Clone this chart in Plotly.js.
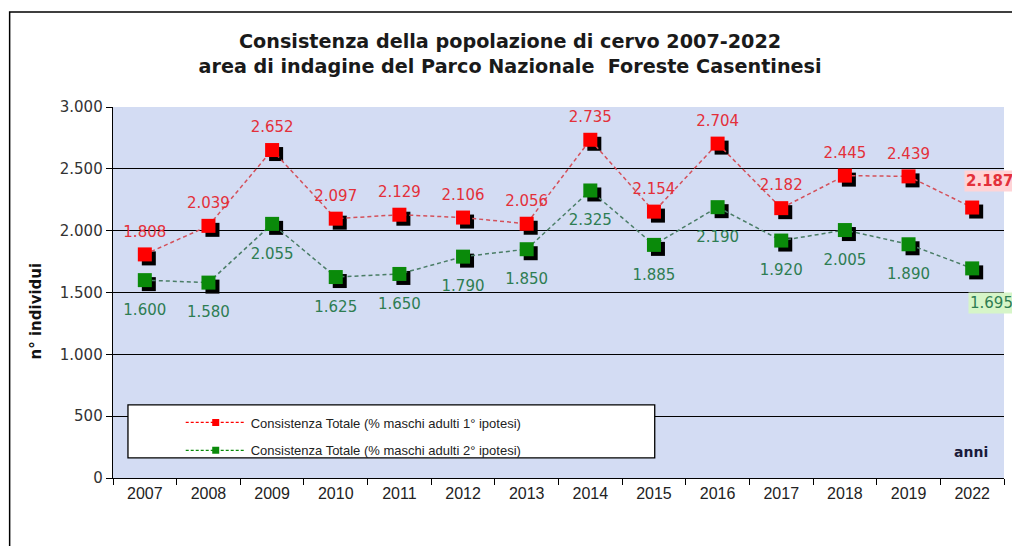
<!DOCTYPE html>
<html><head><meta charset="utf-8">
<script src="https://cdn.plot.ly/plotly-3.0.1.min.js"></script>
<style>body{margin:0;background:#fff}#chart{width:1012px;height:546px}</style>
</head><body><div id="chart"></div>
<script>
const years = ['2007','2008','2009','2010','2011','2012','2013','2014','2015','2016','2017','2018','2019','2022'];
const totale1 = [1808, 2039, 2652, 2097, 2129, 2106, 2056, 2735, 2154, 2704, 2182, 2445, 2439, 2187];
const totale2 = [1600, 1580, 2055, 1625, 1650, 1790, 1850, 2325, 1885, 2190, 1920, 2005, 1890, 1695];
const seriesNames = ['Consistenza Totale (% maschi adulti 1° ipotesi)', 'Consistenza Totale (% maschi adulti 2° ipotesi)'];
const yTicks = [0, 500, 1000, 1500, 2000, 2500, 3000];

const RED = '#ff0000', GREEN = '#0a8a0a';
const fmt = v => v.toLocaleString('de-DE');
const n = years.length;
const lastIdx = n - 1;
const labels1 = totale1.map((v, i) => i === lastIdx ? '' : fmt(v));
const labels2 = totale2.map((v, i) => i === lastIdx ? '' : fmt(v));

const labelFont = {family: 'DejaVu Sans, sans-serif', size: 15};
const traces = [
  // shadows
  {x: years, y: totale1, xaxis: 'x2', yaxis: 'y2', mode: 'markers', type: 'scatter', showlegend: false,
   marker: {symbol: 'square', size: 14, color: '#000'}, hoverinfo: 'skip'},
  {x: years, y: totale2, xaxis: 'x2', yaxis: 'y2', mode: 'markers', type: 'scatter', showlegend: false,
   marker: {symbol: 'square', size: 14, color: '#000'}, hoverinfo: 'skip'},
  // main
  {x: years, y: totale1, xaxis: 'x3', yaxis: 'y3', mode: 'lines+markers', type: 'scatter', showlegend: false,
   line: {color: '#d4505a', dash: '4px,3px', width: 1.5},
   marker: {symbol: 'square', size: 14, color: RED}},
  {x: years, y: totale2, xaxis: 'x3', yaxis: 'y3', mode: 'lines+markers', type: 'scatter', showlegend: false,
   line: {color: '#4a7d66', dash: '4px,3px', width: 1.5},
   marker: {symbol: 'square', size: 14, color: GREEN}},
  // value labels (invisible markers set the label offset)
  {x: years, y: totale1, xaxis: 'x3', yaxis: 'y3', mode: 'markers+text', type: 'scatter', showlegend: false,
   marker: {size: 21, color: 'rgba(0,0,0,0)'},
   text: labels1, textposition: 'top center', textfont: Object.assign({color: '#e3303a'}, labelFont)},
  {x: years, y: totale2, xaxis: 'x3', yaxis: 'y3', mode: 'markers+text', type: 'scatter', showlegend: false,
   marker: {size: 36, color: 'rgba(0,0,0,0)'},
   text: labels2, textposition: 'bottom center', textfont: Object.assign({color: '#2e7d52'}, labelFont)},
  // legend entries
  {x: [null], y: [null], name: seriesNames[0], mode: 'lines+markers', type: 'scatter', legendgroup: 'a',
   line: {color: RED, dash: '3px,2px', width: 1.2}, marker: {symbol: 'square', size: 7, color: RED}},
  {x: [null], y: [null], name: seriesNames[1], mode: 'lines+markers', type: 'scatter', legendgroup: 'b',
   line: {color: GREEN, dash: '3px,2px', width: 1.2}, marker: {symbol: 'square', size: 7, color: GREEN}}
];

const W = 891, H = 371;
const dx = 4 / W * n, dy = 4 / H * 3000;
const layout = {
  width: 1012, height: 546,
  margin: {l: 113, r: 8, t: 107, b: 68},
  paper_bgcolor: '#ffffff', plot_bgcolor: '#d3dcf3',
  separators: ',.',
  hovermode: false,
  font: {family: 'DejaVu Sans, sans-serif', color: '#222'},
  title: {text: '<b>Consistenza della popolazione di cervo 2007-2022<br>area di indagine del Parco Nazionale  Foreste Casentinesi</b>',
          font: {family: 'DejaVu Sans, sans-serif', size: 19.2, color: '#1a1a1a'},
          x: 0.504, xref: 'container', xanchor: 'center', y: 0.912, yref: 'container', yanchor: 'top'},
  xaxis: {type: 'category', categoryorder: 'array', categoryarray: years, range: [-0.5, n - 0.5],
          tickson: 'boundaries', ticks: 'outside', ticklen: 6,
          tickcolor: '#000', showline: true, linecolor: '#000', linewidth: 1.3, showgrid: false,
          tickfont: {family: 'Liberation Sans Narrow, Liberation Sans, sans-serif', size: 16, color: '#222'}},
  yaxis: {range: [0, 3000], tickvals: yTicks, tickformat: ',', ticks: 'outside', ticklen: 6, tickcolor: '#000',
          showline: true, linecolor: '#000', linewidth: 1.3, gridcolor: '#000', gridwidth: 1.3, zeroline: false,
          tickfont: {family: 'DejaVu Sans, sans-serif', size: 15, color: '#333'}},
  xaxis2: {type: 'category', categoryorder: 'array', categoryarray: years, overlaying: 'x', anchor: 'y2',
           range: [-0.5 - dx, n - 0.5 - dx], visible: false},
  yaxis2: {overlaying: 'y', anchor: 'x2', range: [dy, 3000 + dy], visible: false},
  xaxis3: {type: 'category', categoryorder: 'array', categoryarray: years, overlaying: 'x', anchor: 'y3',
           range: [-0.5, n - 0.5], visible: false},
  yaxis3: {overlaying: 'y', anchor: 'x3', range: [0, 3000], visible: false},
  legend: {x: 0.076, y: 0.19, xanchor: 'left', yanchor: 'top', bgcolor: 'rgba(0,0,0,0)', borderwidth: 0,
           itemwidth: 60, traceorder: 'grouped', tracegroupgap: 8,
           font: {family: 'Liberation Sans, sans-serif', size: 13, color: '#222'}},
  shapes: [
    {type: 'rect', xref: 'paper', yref: 'paper', x0: 0.0168, x1: 0.608, y0: 0.054, y1: 0.197,
     fillcolor: '#ffffff', line: {color: '#000', width: 1.3}, layer: 'above'},
    {type: 'rect', xref: 'paper', yref: 'paper', x0: -0.116, x1: 1.02, y0: -0.2, y1: 1.256,
     fillcolor: 'rgba(0,0,0,0)', line: {color: '#000', width: 1.5}, layer: 'above'}
  ],
  annotations: [
    {xref: 'x', yref: 'y', x: lastIdx, y: totale1[lastIdx], text: '<b>' + fmt(totale1[lastIdx]) + '</b>',
     showarrow: false, xanchor: 'left', yanchor: 'middle', xshift: -8, yshift: 27, bgcolor: '#ffd3d6',
     font: {family: 'DejaVu Sans, sans-serif', size: 15, color: '#e3303a'}},
    {xref: 'x', yref: 'y', x: lastIdx, y: totale2[lastIdx], text: fmt(totale2[lastIdx]),
     showarrow: false, xanchor: 'left', yanchor: 'middle', xshift: -4, yshift: -35, bgcolor: '#d6f5c8',
     font: {family: 'DejaVu Sans, sans-serif', size: 15, color: '#2e7d52'}},
    {xref: 'paper', yref: 'paper', x: 0.984, y: 0.07, xanchor: 'right', yanchor: 'middle', showarrow: false,
     text: '<b>anni</b>', font: {family: 'DejaVu Sans, sans-serif', size: 14, color: '#1a1a3a'}},
    {xref: 'paper', yref: 'paper', x: -0.086, y: 0.45, xanchor: 'center', yanchor: 'middle', showarrow: false,
     textangle: -90, text: '<b>n° individui</b>', font: {family: 'DejaVu Sans, sans-serif', size: 15, color: '#111'}}
  ]
};
Plotly.newPlot('chart', traces, layout, {displayModeBar: false, staticPlot: true});
</script></body></html>
